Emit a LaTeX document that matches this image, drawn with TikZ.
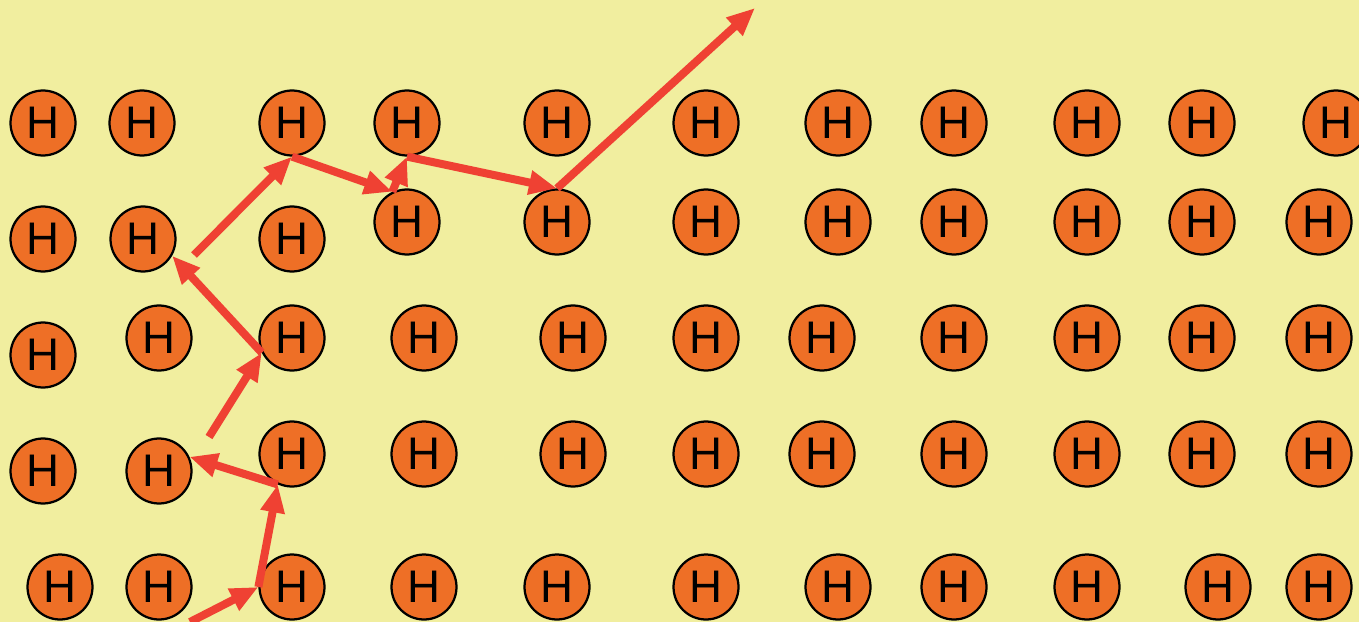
\documentclass[tikz,border=0pt]{standalone}
\usepackage{fontspec}
\setmainfont{Liberation Sans}
\usepackage{tikz}
\usetikzlibrary{arrows.meta}
\definecolor{PaperBG}{HTML}{F1EE9F}
\definecolor{AtomFill}{HTML}{EE6F26}
\definecolor{HopRed}{HTML}{EF4133}

\begin{document}
\begin{tikzpicture}[x=0.02cm,y=-0.02cm,
  atom/.style={circle,draw=black,line width=0.045cm,fill=AtomFill,
               minimum size=1.3cm,inner sep=0pt,
               font=\fontsize{26}{26}\selectfont},
  hop/.style={-{Triangle[length=0.56cm,width=0.46cm]},line width=0.16cm,
              HopRed}]
\fill[PaperBG] (0,0) rectangle (1359,622);
\useasboundingbox (0,0) rectangle (1359,622);
% lattice of hydrogen atoms, row by row
\foreach \x/\y [count=\i] in {43/123,142/123,292/123,407/123,557/123,706/123,
    838/123,954/123,1087/123,1202/123,1336/123}
  \node[atom] (r1c\i) at (\x,\y) {H};
\foreach \x/\y [count=\i] in {43/239,143/239,292/239,407/222,557/222,706/222,
    838/222,954/222,1087/222,1202/222,1319/222}
  \node[atom] (r2c\i) at (\x,\y) {H};
\foreach \x/\y [count=\i] in {43/355,159/338,292/338,424/338,573/338,706/338,
    822/338,954/338,1087/338,1202/338,1319/338}
  \node[atom] (r3c\i) at (\x,\y) {H};
\foreach \x/\y [count=\i] in {43/471,159/471,292/454,424/454,573/454,706/454,
    822/454,954/454,1087/454,1202/454,1319/454}
  \node[atom] (r4c\i) at (\x,\y) {H};
\foreach \x/\y [count=\i] in {60/587,159/587,292/587,424/587,557/587,706/587,
    838/587,954/587,1087/587,1218/587,1319/587}
  \node[atom] (r5c\i) at (\x,\y) {H};
% free ends of the hopping path
\coordinate (entry) at (190,622);
\coordinate (jump1) at (209,437);
\coordinate (jump2) at (194,255);
\coordinate (escape) at (755,8);
% hopping path
\draw[hop] (entry) -- (r5c3.west);
\draw[hop] (r5c3.west) -- (r4c3.245);
\draw[hop] (r4c3.245) -- (r4c2.25);
\draw[hop] (jump1) -- (r3c3.206);
\draw[hop] (r3c3.206) -- (r2c2.330);
\draw[hop] (jump2) -- (r1c3.south);
\draw[hop] (r1c3.south) -- (r2c4.116);
\draw[hop] (r2c4.116) -- (r1c4.south);
\draw[hop] (r1c4.south) -- (r2c5.north);
\draw[hop] (r2c5.north) -- (escape);
\end{tikzpicture}
\end{document}
